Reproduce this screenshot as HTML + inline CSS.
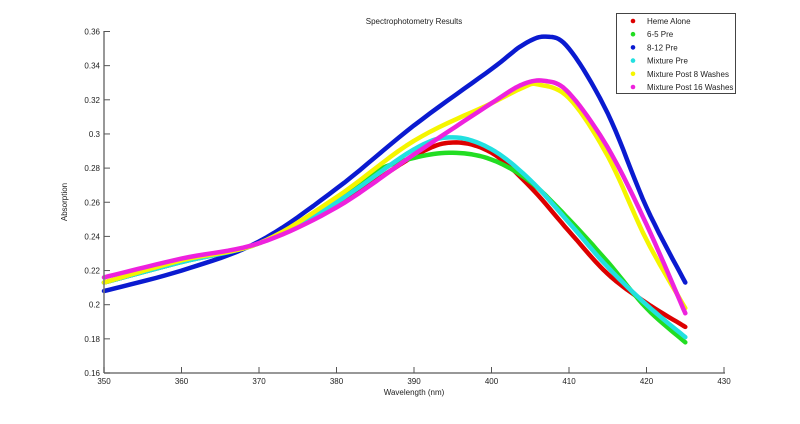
<!DOCTYPE html>
<html><head><meta charset="utf-8"><style>
body{margin:0;background:#fff;width:800px;height:419px;overflow:hidden}
svg text{font-family:"Liberation Sans",sans-serif;font-size:8px;fill:#222}
</style></head><body>
<svg id="s" width="800" height="419" xmlns="http://www.w3.org/2000/svg">
<g id="curves"></g>
<line x1="104" y1="373" x2="725" y2="373" stroke="#777" stroke-width="1.5"/>
<line x1="104" y1="31" x2="104" y2="373" stroke="#777" stroke-width="1.5"/>
<g id="ticks"></g>
<text x="414" y="24" text-anchor="middle">Spectrophotometry Results</text>
<text x="414" y="395" text-anchor="middle">Wavelength (nm)</text>
<text transform="translate(67,202) rotate(-90)" text-anchor="middle">Absorption</text>
<rect x="616.5" y="13.5" width="119" height="80" fill="#fff" stroke="#444"/>
<g id="leg"></g>
</svg>
<script>
const X=w=>104+(w-350)*7.75, Y=a=>373-(a-0.16)*1707.5;
const ns="http://www.w3.org/2000/svg";
function el(t,a,p,txt){const e=document.createElementNS(ns,t);for(const k in a)e.setAttribute(k,a[k]);if(txt)e.textContent=txt;p.appendChild(e);return e;}
const tk=document.getElementById('ticks');
for(let w=350;w<=430;w+=10){el('line',{x1:X(w),y1:373,x2:X(w),y2:367,stroke:'#555'},tk);el('text',{x:X(w),y:384,'text-anchor':'middle'},tk,String(w));}
for(let i=0;i<=10;i++){const a=0.16+i*0.02;el('line',{x1:104,y1:Y(a),x2:110,y2:Y(a),stroke:'#555'},tk);el('text',{x:100,y:Y(a)+3,'text-anchor':'end'},tk,String(+a.toFixed(2)));}
const S=[
['#dd0000',[[350,.213],[360,.225],[370,.236],[380,.258],[390,.287],[395,.295],[400,.289],[405,.269],[410,.243],[415,.218],[420,.201],[425,.187]],'Heme Alone'],
['#22dd22',[[350,.213],[360,.225],[370,.236],[380,.262],[385,.278],[390,.286],[395,.289],[400,.285],[405,.272],[410,.250],[415,.225],[420,.198],[425,.178]],'6-5 Pre'],
['#0a1ad0',[[350,.208],[360,.220],[370,.237],[380,.268],[390,.305],[400,.338],[404,.352],[407,.357],[410,.350],[415,.312],[420,.257],[425,.213]],'8-12 Pre'],
['#22e0e0',[[350,.213],[360,.225],[370,.236],[380,.260],[390,.291],[395,.298],[400,.291],[405,.273],[410,.248],[415,.222],[420,.200],[425,.181]],'Mixture Pre'],
['#f5f500',[[350,.213],[360,.226],[370,.236],[380,.263],[390,.296],[400,.318],[404,.327],[406,.329],[410,.321],[415,.287],[420,.238],[425,.198]],'Mixture Post 8 Washes'],
['#ee22dd',[[350,.216],[360,.227],[370,.236],[380,.257],[390,.288],[400,.318],[404,.329],[407,.331],[410,.324],[415,.292],[420,.247],[425,.195]],'Mixture Post 16 Washes']];
const cg=document.getElementById('curves'),lg=document.getElementById('leg');
S.forEach((s,i)=>{const p=s[1];let pts=[];
for(let j=0;j<p.length-1;j++){const p0=p[Math.max(j-1,0)],p1=p[j],p2=p[j+1],p3=p[Math.min(j+2,p.length-1)];
for(let t=0;t<1;t+=0.1){const t2=t*t,t3=t2*t;const f=(a,b,c,d)=>0.5*(2*b+(-a+c)*t+(2*a-5*b+4*c-d)*t2+(-a+3*b-3*c+d)*t3);
pts.push(X(f(p0[0],p1[0],p2[0],p3[0])).toFixed(1)+','+Y(f(p0[1],p1[1],p2[1],p3[1])).toFixed(1));}}
const l=p[p.length-1];pts.push(X(l[0])+','+Y(l[1]));
el('polyline',{points:pts.join(' '),fill:'none',stroke:s[0],'stroke-width':4.5,'stroke-linejoin':'round','stroke-linecap':'round'},cg);
const y=21+i*13.2;el('circle',{cx:633,cy:y,r:2.3,fill:s[0]},lg);el('text',{x:647,y:y+3},lg,s[2]);});
</script>
</body></html>
